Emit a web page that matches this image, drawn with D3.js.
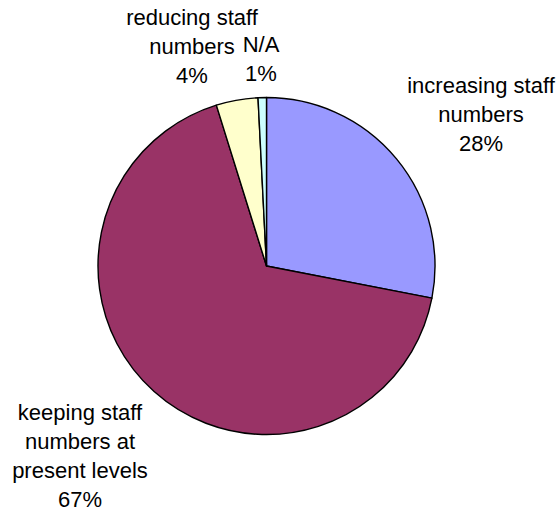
<!DOCTYPE html>
<html>
<head>
<meta charset="utf-8">
<script src="https://cdn.jsdelivr.net/npm/d3@7"></script>
<style>
    body { margin: 0; background: #fff; }
    svg text { font-family: "Liberation Sans", Arial, sans-serif; font-size: 22px; fill: #000; }
</style>
</head>
<body>
<div id="chart"></div>
<script>
// data
const categories = ["increasing staff numbers", "keeping staff numbers at present levels", "reducing staff numbers", "N/A"];
const values = [28, 67, 4, 0.8];
const percentLabels = ["28%", "67%", "4%", "1%"];
const colors = ["#9999FF", "#993366", "#FFFFCC", "#CCFFFF"];

// label text lines (category wrapped as in the chart) and anchor points
const labelLines = [
    ["increasing staff", "numbers"],
    ["keeping staff", "numbers at", "present levels"],
    ["reducing staff", "numbers"],
    ["N/A"]
];
const labelPos = [[481, 93], [80, 420], [192, 25], [261, 52]];

const width = 560;
const height = 513;
const cx = 266.5;
const cy = 266;
const radius = 168.5;
const lineHeight = 29;

const svg = d3.select("#chart")
    .append("svg")
    .attr("width", width)
    .attr("height", height);

const vis = svg.append("g")
    .attr("transform", `translate(${cx},${cy})`);

const pie = d3.pie()
    .value(d => d)
    .sort(null);

const arc = d3.arc()
    .innerRadius(0)
    .outerRadius(radius);

const arcs = pie(values);

vis.selectAll("path.slice")
    .data(arcs)
    .join("path")
    .attr("class", "slice")
    .attr("d", arc)
    .attr("fill", (d, i) => colors[i])
    .attr("stroke", "#000")
    .attr("stroke-width", 1.4)
    .attr("stroke-linejoin", "round");

// labels
const labels = svg.append("g");
categories.forEach((c, i) => {
    const lines = labelLines[i].concat([percentLabels[i]]);
    const t = labels.append("text")
        .attr("text-anchor", "middle")
        .attr("x", labelPos[i][0])
        .attr("y", labelPos[i][1]);
    lines.forEach((l, j) => {
        t.append("tspan")
            .attr("x", labelPos[i][0])
            .attr("dy", j === 0 ? 0 : lineHeight)
            .text(l);
    });
});
</script>
</body>
</html>
